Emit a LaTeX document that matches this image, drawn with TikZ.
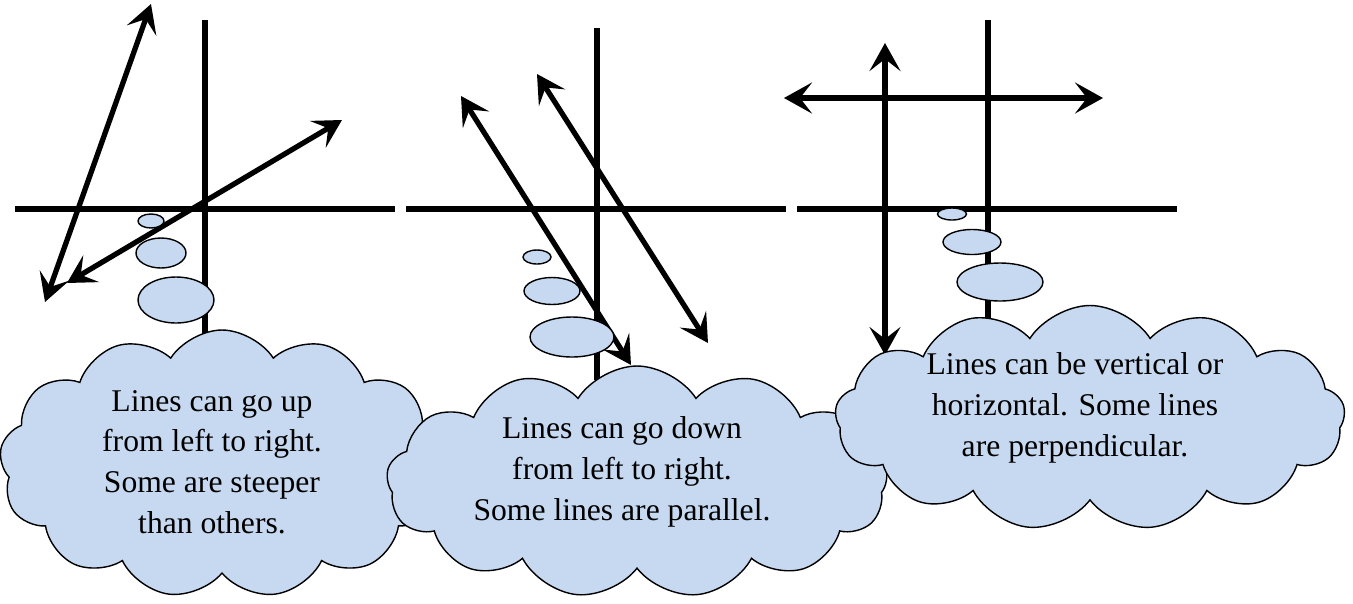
\documentclass[tikz,border=0pt]{standalone}
\usepackage{fontspec}
\setmainfont{Liberation Serif}
\usepackage{tikz}
\usetikzlibrary{shapes.symbols, shapes.geometric, arrows.meta}
\definecolor{bubbleblue}{HTML}{C6D9F0}

\begin{document}
\begin{tikzpicture}[
    x=0.02cm, y=-0.02cm,
    axis/.style={line width=3pt},
    arr/.style={line width=3pt, {Stealth[length=5.6mm, width=6.2mm, inset=2.4mm]}-{Stealth[length=5.6mm, width=6.2mm, inset=2.4mm]}},
    puff/.style 2 args={ellipse, draw, fill=bubbleblue, line width=0.8pt, inner sep=0pt, minimum width=#1*0.02cm, minimum height=#2*0.02cm},
    thought/.style 2 args={cloud, cloud puffs=13, cloud puff arc=115, cloud ignores aspect, draw, fill=bubbleblue, line width=0.8pt, minimum width=#1*0.02cm, minimum height=#2*0.02cm},
    thoughttext/.style={align=center, font=\fontsize{18}{23.2}\selectfont},
]
    \useasboundingbox (0,0) rectangle (1353,603);

    % panel 1: rising lines
    \draw[axis] (15,209) -- (395,209);
    \draw[axis] (205,20) -- (205,345);
    \coordinate (up1a) at (45,302);
    \coordinate (up1b) at (151,4);
    \coordinate (up2a) at (67,283);
    \coordinate (up2b) at (342,120);
    \draw[arr] (up1a) -- (up1b);
    \draw[arr] (up2a) -- (up2b);

    % panel 2: falling lines
    \draw[axis] (406,209) -- (786,209);
    \draw[axis] (597,28) -- (597,380);
    \coordinate (dn1a) at (461,96);
    \coordinate (dn1b) at (631,365);
    \coordinate (dn2a) at (537,74);
    \coordinate (dn2b) at (708,343);
    \draw[arr] (dn1a) -- (dn1b);
    \draw[arr] (dn2a) -- (dn2b);

    % panel 3: vertical and horizontal
    \draw[axis] (797,209) -- (1177,209);
    \draw[axis] (988,20) -- (988,330);
    \coordinate (vt1) at (885,43);
    \coordinate (vt2) at (885,355);
    \coordinate (hz1) at (784,98);
    \coordinate (hz2) at (1103,98);
    \draw[arr] (vt1) -- (vt2);
    \draw[arr] (hz1) -- (hz2);

    % thought bubbles
    \node[puff={26}{14}] (p11) at (151,221) {};
    \node[puff={50}{30}] (p12) at (161,253) {};
    \node[puff={76}{46}] (p13) at (176,300) {};
    \node[puff={28}{14}] (p21) at (537,257) {};
    \node[puff={56}{27}] (p22) at (552,291) {};
    \node[puff={84}{40}] (p23) at (572,337) {};
    \node[puff={29}{12}] (p31) at (952,214) {};
    \node[puff={58}{25}] (p32) at (972,242) {};
    \node[puff={86}{38}] (p33) at (1000,282) {};

    % clouds
    \node[thought={445}{268}] (c1) at (222,464) {};
    \node[thoughttext] (t1) at (212,462) {Lines can go up\\from left to right.\\Some are steeper\\than others.};
    \node[thought={501}{232}] (c2) at (637,482) {};
    \node[thoughttext] (t2) at (622,472) {Lines can go down\\from left to right.\\Some lines are parallel.};
    \node[thought={510}{225}] (c3) at (1090,418) {};
    \node[thoughttext] (t3) at (1075,408) {Lines can be vertical or\\horizontal. Some lines\\are perpendicular.};
\end{tikzpicture}
\end{document}
